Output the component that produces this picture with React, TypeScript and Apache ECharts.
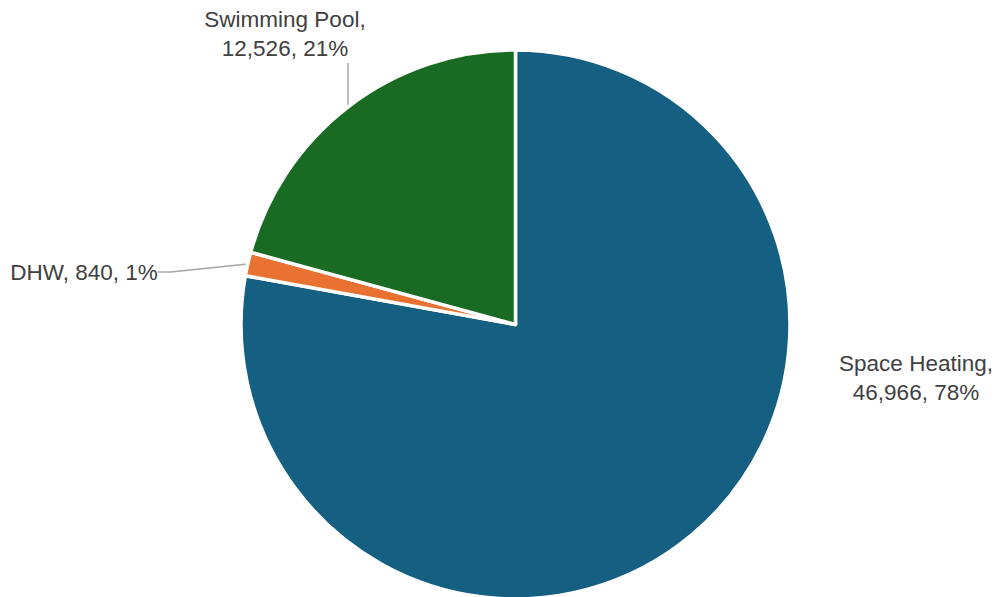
import React, { useEffect, useRef } from "react";
import * as echarts from "echarts";

const categories = ["Space Heating", "DHW", "Swimming Pool"];
const values = [46966, 840, 12526];
const percents = ["78%", "1%", "21%"];
const colors = ["#156082", "#E97132", "#196B24"];

const fmt = (i: number, multiline: boolean) =>
  `${categories[i]},${multiline ? "\n" : " "}${values[i].toLocaleString("en-US")}, ${percents[i]}`;

// label placement (layout only)
const labelCfg = [
  { x: 916, y: 378, multiline: true, padding: [0, 0, 0, 0], line: false, length2: 10 },
  { x: 84, y: 272, multiline: false, padding: [0, 0, 0, 0], line: true, length2: 13 },
  { x: 348, y: 34, multiline: true, padding: [0, 126, 0, 0], line: true, length2: 45 },
];

export default function App() {
  const ref = useRef<HTMLDivElement>(null);
  useEffect(() => {
    document.body.style.margin = "0";
    const chart = echarts.init(ref.current!, null, { renderer: "svg" });
    chart.setOption({
      animation: false,
      backgroundColor: "#ffffff",
      series: [
        {
          type: "pie",
          center: [515.5, 324.5],
          radius: 274.5,
          startAngle: 90,
          clockwise: true,
          avoidLabelOverlap: false,
          itemStyle: { borderColor: "#ffffff", borderWidth: 3.5 },
          label: {
            show: true,
            position: "outside",
            fontFamily: "Liberation Sans, Arial, sans-serif",
            fontSize: 22.5,
            lineHeight: 29,
            color: "#404040",
            align: "center",
          },
          labelLine: {
            show: true,
            length: 15,
            length2: 12,
            lineStyle: { color: "#A6A6A6", width: 1.5 },
          },
          labelLayout: (p: any) => ({
            x: labelCfg[p.dataIndex].x,
            y: labelCfg[p.dataIndex].y,
            align: "center",
            verticalAlign: "middle",
          }),
          data: categories.map((c, i) => ({
            name: c,
            value: values[i],
            itemStyle: { color: colors[i] },
            label: {
              formatter: fmt(i, labelCfg[i].multiline),
              padding: labelCfg[i].padding,
            },
            labelLine: { show: labelCfg[i].line, length2: labelCfg[i].length2 },
          })),
        },
      ],
    });
    return () => chart.dispose();
  }, []);
  return <div ref={ref} style={{ width: 1000, height: 597 }} />;
}
